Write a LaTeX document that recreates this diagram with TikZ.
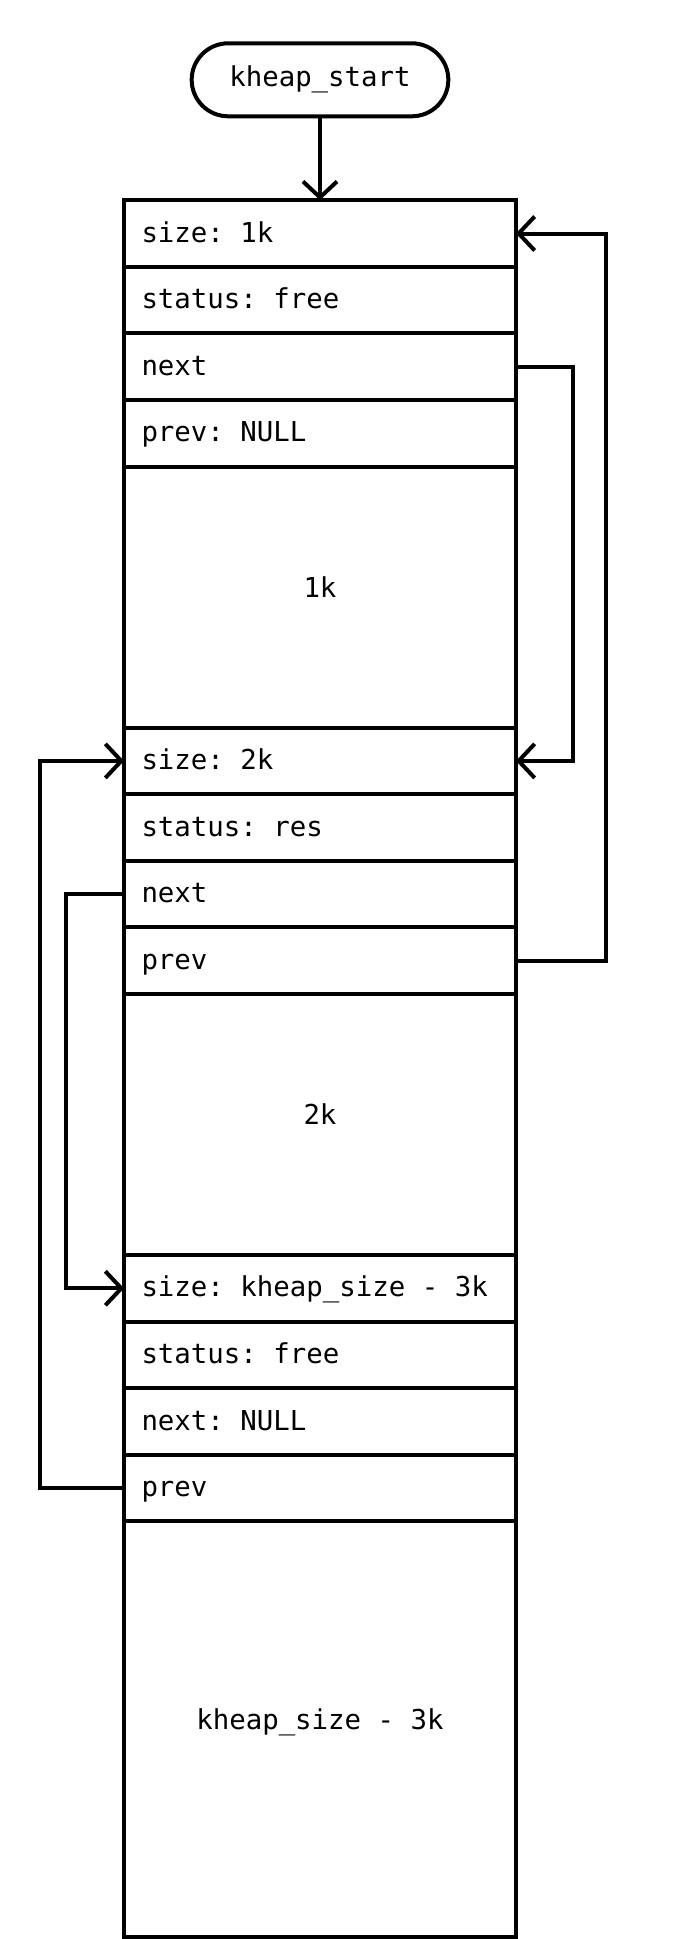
\documentclass[tikz,border=0pt]{standalone}
\usepackage{fontspec}
\setmonofont{DejaVu Sans Mono}
\usepackage{tikz}
\usetikzlibrary{positioning,arrows.meta,shapes.misc}
\newcommand\heapfont{\ttfamily\fontsize{13.7}{16}\selectfont}

\begin{document}
\begin{tikzpicture}[
  font=\heapfont,
  field/.style={draw,line width=2pt,outer sep=0pt,minimum width=195.9pt,minimum height=33.3pt,
    text width=178.5pt,inner xsep=8.7pt,align=flush left,text height=11pt,text depth=2.5pt},
  blob/.style={field,minimum height=130.5pt,align=flush center,text depth=11pt},
  pill/.style={draw,line width=2pt,rounded rectangle,minimum width=135pt,minimum height=36.5pt,outer sep=0pt},
  ptr/.style={line width=2pt,-{Straight Barb[length=8pt,width=17pt,line width=2pt]}}
]
  \useasboundingbox (0,0) rectangle (338pt,-969.5pt);

  \node[pill] (start) at (160pt,-39.9pt) {kheap\_start};

  % first chunk
  \node[field,below=41.95pt of start] (size1) {size: 1k};
  \node[field,below=0pt of size1] (stat1) {status: free};
  \node[field,below=0pt of stat1] (next1) {next};
  \node[field,below=0pt of next1] (prev1) {prev: NULL};
  \node[blob,below=0pt of prev1] (data1) {1k};

  % second chunk
  \node[field,below=0pt of data1] (size2) {size: 2k};
  \node[field,below=0pt of size2] (stat2) {status: res};
  \node[field,below=0pt of stat2] (next2) {next};
  \node[field,below=0pt of next2] (prev2) {prev};
  \node[blob,below=0pt of prev2] (data2) {2k};

  % third chunk
  \node[field,below=0pt of data2] (size3) {size: kheap\_size - 3k};
  \node[field,below=0pt of size3] (stat3) {status: free};
  \node[field,below=0pt of stat3] (next3) {next: NULL};
  \node[field,below=0pt of next3] (prev3) {prev};
  \node[blob,below=0pt of prev3,minimum height=208pt] (data3) {kheap\_size - 3k};

  \draw[ptr] (start.south) -- (size1.north);

  % links
  \draw[ptr] (next1.east) -- ++(28.4pt,0) |- (size2.east);
  \draw[ptr] (prev2.east) -- ++(45.1pt,0) |- (size1.east);
  \draw[ptr] (next2.west) -- ++(-29pt,0) |- (size3.west);
  \draw[ptr] (prev3.west) -- ++(-42pt,0) |- (size2.west);
\end{tikzpicture}
\end{document}
